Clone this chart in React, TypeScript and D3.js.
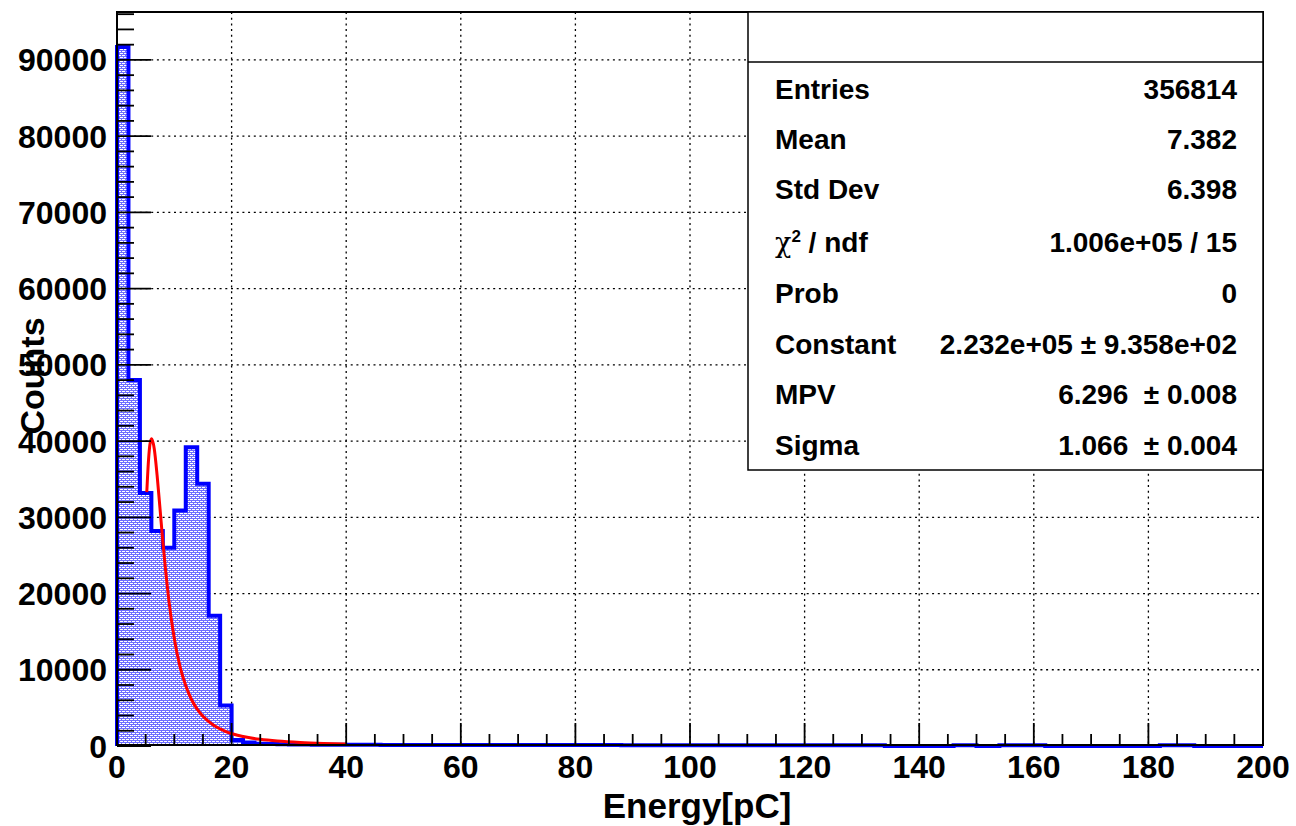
import React from 'react';
import * as d3 from 'd3';

// ---------------- data ----------------
const binWidth = 2;
const counts = [
  91700, 48000, 33200, 28200, 26000, 30900, 39200, 34400, 17100, 5300,
  800, 450, 300, 260, 230, 210, 190, 180, 170, 160,
  150, 150, 150, 145, 145, 140, 140, 140, 135, 135,
  130, 130, 130, 125, 125, 125, 120, 120, 120, 120,
  115, 115, 115, 115, 110, 110, 110, 110, 110, 105,
  105, 105, 105, 105, 100, 100, 100, 100, 100, 100,
  100, 100, 100, 100, 100, 100, 100, 0, 0, 0,
  0, 0, 0, 100, 100, 0, 0, 100, 100, 100,
  100, 0, 0, 0, 0, 0, 0, 0, 0, 0,
  0, 100, 100, 100, 0, 0, 0, 0, 0, 0,
];

// Fit curve (Landau)
const fitX = [5.2, 5.5, 5.8, 6.06, 6.5, 7.0, 7.5, 8.0, 8.5, 9.0, 10, 11, 12, 13, 14, 15, 17, 19, 22, 25, 28, 32, 36, 40];
const fitY = [33300, 37500, 39800, 40300, 39000, 35500, 31200, 26800, 22900, 19400, 14100, 10400, 7900, 6100, 4830, 3890, 2650, 1900, 1250, 880, 650, 460, 340, 260];

const xTicks = [0, 20, 40, 60, 80, 100, 120, 140, 160, 180, 200];
const yTicks = [0, 10000, 20000, 30000, 40000, 50000, 60000, 70000, 80000, 90000];

const statLabels = ['Entries', 'Mean', 'Std Dev', 'CHI', 'Prob', 'Constant', 'MPV', 'Sigma'];
const statValues = ['356814', '7.382', '6.398', '1.006e+05 / 15', '0', '2.232e+05 \u00b1 9.358e+02', '6.296  \u00b1 0.008', '1.066  \u00b1 0.004'];

const xAxisTitle = 'Energy[pC]';
const yAxisTitle = 'Counts';

// ---------------- layout ----------------
const W = 1296;
const H = 826;
const L = 117, R = 1263, T = 12, B = 745;
const yMax = 96285;
const FONT = "'Liberation Sans', Arial, Helvetica, sans-serif";

export default function App() {
  const x = d3.scaleLinear().domain([0, 200]).range([L, R]);
  const y = d3.scaleLinear().domain([0, yMax]).range([B + 1, T]);

  const bins = counts.map((c, i) => ({ lo: i * binWidth, hi: (i + 1) * binWidth, c }));
  const stepPts: [number, number][] = [];
  stepPts.push([0, 0]);
  bins.forEach((b) => {
    stepPts.push([b.lo, b.c]);
    stepPts.push([b.hi, b.c]);
  });
  stepPts.push([200, 0]);

  const line = d3.line<[number, number]>().x((d) => x(d[0])).y((d) => y(d[1]));
  const area = d3
    .area<[number, number]>()
    .x((d) => x(d[0]))
    .y0(y(0))
    .y1((d) => y(d[1]));

  const fitPts = fitX.map((v, i) => [v, fitY[i]] as [number, number]);
  const fitLine = d3
    .line<[number, number]>()
    .x((d) => x(d[0]))
    .y((d) => y(d[1]))
    .curve(d3.curveMonotoneX);

  const xMinor = d3.range(0, 201, 5).filter((v) => v % 20 !== 0);
  const yMinor = d3.range(0, yMax, 2000).filter((v) => v % 10000 !== 0);

  const boxL = 748, boxT = T, boxR = R, boxB = 470, boxDiv = 62;
  const rowY = [89, 139, 189, 242, 293, 344, 394, 445];

  return (
    <svg
      width={W}
      height={H}
      style={{ position: 'absolute', left: 0, top: 0, background: '#fff' }}
      fontFamily={FONT}
    >
      <defs>
        <pattern id="hatch" width="4" height="4" patternUnits="userSpaceOnUse">
          <rect width="4" height="4" fill="#6f6fff" />
          <rect x="0" y="1" width="3" height="1" fill="#ffffff" />
          <rect x="2" y="3" width="2" height="1" fill="#ffffff" />
          <rect x="0" y="3" width="1" height="1" fill="#ffffff" />
        </pattern>
      </defs>
      <rect x={0} y={0} width={W} height={H} fill="#fff" />

      {/* grid */}
      <g stroke="#000" strokeWidth={1.3} strokeDasharray="2,3.7">
        {xTicks.filter((v) => v > 0 && v < 200).map((v) => (
          <line key={'gx' + v} x1={x(v)} x2={x(v)} y1={T} y2={B} />
        ))}
        {yTicks.filter((v) => v > 0).map((v) => (
          <line key={'gy' + v} x1={L} x2={R} y1={y(v)} y2={y(v)} />
        ))}
      </g>

      {/* histogram */}
      <path d={area(stepPts) || ''} fill="url(#hatch)" stroke="none" />
      <path d={line(stepPts) || ''} fill="none" stroke="#0000ff" strokeWidth={4} strokeLinejoin="miter" />

      {/* fit */}
      <path d={fitLine(fitPts) || ''} fill="none" stroke="#ff0000" strokeWidth={3} />

      {/* frame */}
      <rect x={L} y={T} width={R - L} height={B - T} fill="none" stroke="#000" strokeWidth={2} />

      {/* ticks */}
      <g stroke="#000" strokeWidth={1.8}>
        {yTicks.map((v) => (
          <line key={'ty' + v} x1={L} x2={L + 34} y1={y(v)} y2={y(v)} />
        ))}
        {yMinor.map((v) => (
          <line key={'tym' + v} x1={L} x2={L + 17} y1={y(v)} y2={y(v)} />
        ))}
        {xTicks.map((v) => (
          <line key={'tx' + v} x1={x(v)} x2={x(v)} y1={B} y2={B - 22} />
        ))}
        {xMinor.map((v) => (
          <line key={'txm' + v} x1={x(v)} x2={x(v)} y1={B} y2={B - 11} />
        ))}
      </g>
      <line x1={L} x2={R} y1={B} y2={B} stroke="#000" strokeWidth={2} />

      {/* tick labels */}
      <g fontSize={32} fontWeight="bold" fill="#000">
        {yTicks.map((v) => (
          <text key={'ly' + v} x={107} y={y(v)} dy="0.36em" textAnchor="end">
            {v}
          </text>
        ))}
        {xTicks.map((v) => (
          <text key={'lx' + v} x={x(v)} y={778} textAnchor="middle">
            {v}
          </text>
        ))}
      </g>

      {/* axis titles */}
      <text x={697} y={818} textAnchor="middle" fontSize={35} fontWeight="bold">
        {xAxisTitle}
      </text>
      <text
        transform={`translate(44,376) rotate(-90)`}
        textAnchor="middle"
        fontSize={34}
        fontWeight="bold"
      >
        {yAxisTitle}
      </text>

      {/* stats box */}
      <rect x={boxL} y={boxT} width={boxR - boxL} height={boxB - boxT} fill="#fff" stroke="#000" strokeWidth={1.5} />
      <line x1={boxL} x2={boxR} y1={boxDiv} y2={boxDiv} stroke="#000" strokeWidth={1.5} />
      <g fontSize={28} fontWeight="bold" fill="#000">
        {statLabels.map((s, i) => (
          <text key={'sl' + i} x={775} y={rowY[i]} dy="0.36em">
            {s === 'CHI' ? (
              <>
                <tspan fontWeight="normal" fontFamily="'DejaVu Serif', serif" fontSize={27}>
                  {'\u03c7'}
                </tspan>
                <tspan fontSize={17} dy="-10">2</tspan>
                <tspan dy="10">{' / ndf'}</tspan>
              </>
            ) : (
              s
            )}
          </text>
        ))}
        {statValues.map((s, i) => (
          <text key={'sv' + i} x={1237} y={rowY[i]} dy="0.36em" textAnchor="end" style={{ whiteSpace: 'pre' }}>
            {s}
          </text>
        ))}
      </g>
    </svg>
  );
}
